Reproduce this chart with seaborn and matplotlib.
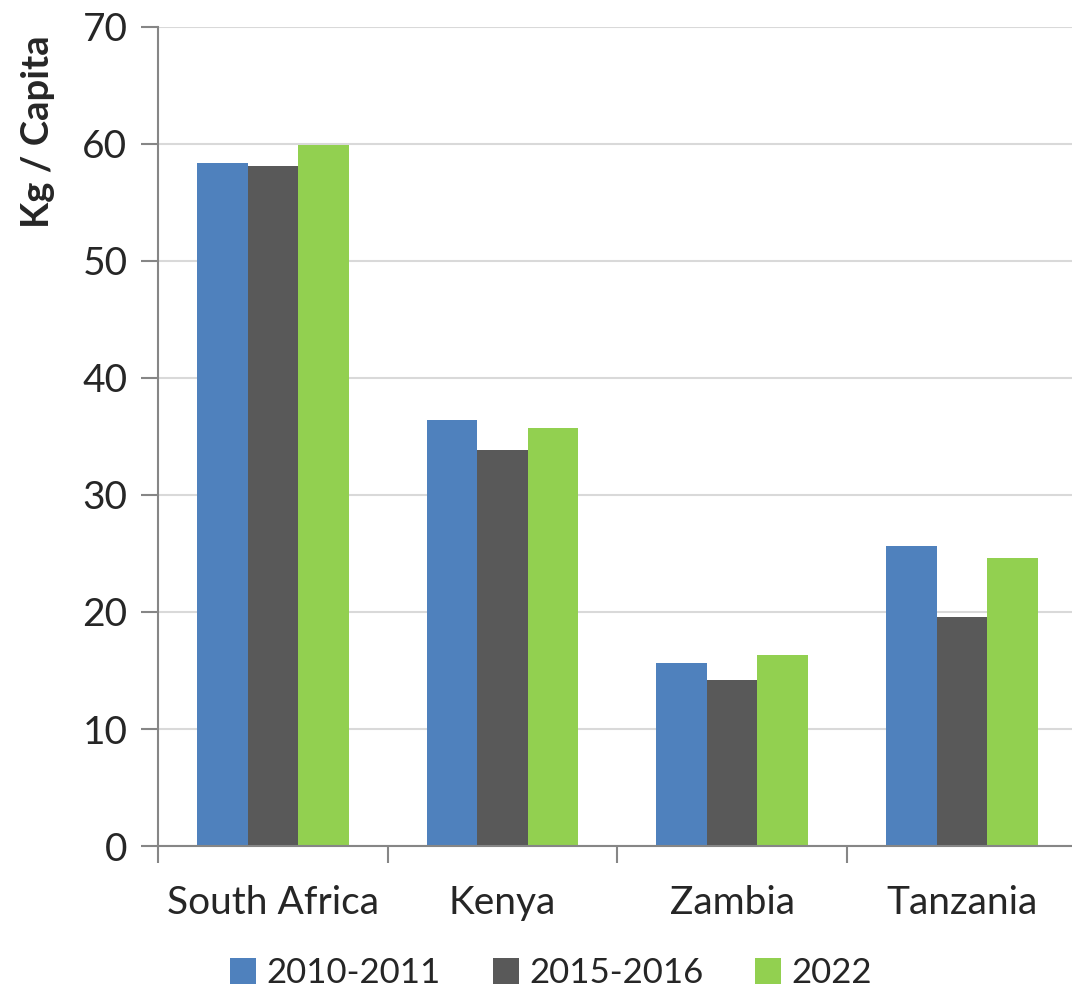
import numpy as np
import pandas as pd
import matplotlib
matplotlib.use('Agg')
import matplotlib.pyplot as plt
import seaborn as sns

# data
countries = ['South Africa', 'Kenya', 'Zambia', 'Tanzania']
periods = ['2010-2011', '2015-2016', '2022']
v_2010 = [58.4, 36.4, 15.6, 25.6]
v_2015 = [58.1, 33.8, 14.2, 19.6]
v_2022 = [59.9, 35.7, 16.3, 24.6]
colors = ['#4F81BD', '#595959', '#92D050']

df = pd.DataFrame({
    'Country': countries * 3,
    'Period': [periods[0]] * 4 + [periods[1]] * 4 + [periods[2]] * 4,
    'Value': v_2010 + v_2015 + v_2022,
})

sns.set_style('white')
plt.rcParams['font.family'] = ['Lato', 'DejaVu Sans']

fig = plt.figure(figsize=(10.72, 9.93), dpi=100)
ax = fig.add_axes([0.1474, 0.148, 0.857, 0.825])

sns.barplot(data=df, x='Country', y='Value', hue='Period', hue_order=periods,
            palette=colors, width=0.66, gap=0, saturation=1, linewidth=0,
            ax=ax, legend=True)

ax.set_ylim(0, 70)
ax.set_yticks(np.arange(0, 71, 10))
ax.set_xlim(-0.5, 3.5)
ax.yaxis.grid(True, color='#D9D9D9', linewidth=1.5)
ax.set_axisbelow(True)

for s in ['top', 'right']:
    ax.spines[s].set_visible(False)
for s in ['left', 'bottom']:
    ax.spines[s].set_color('#868686')
    ax.spines[s].set_linewidth(1.5)

ax.set_xticks(np.arange(-0.5, 3.6, 1), minor=True)
ax.tick_params(axis='x', which='major', length=0, pad=28, labelsize=28)
ax.tick_params(axis='x', which='minor', length=12, width=1.5, color='#868686', direction='out')
ax.tick_params(axis='y', length=12, width=1.5, color='#868686', direction='out', labelsize=28, pad=10)
ax.tick_params(bottom=True, left=True, which='both')

ax.set_xlabel('')
ax.set_ylabel('Kg / Capita', fontsize=27.5, fontweight='bold', loc='top')
ax.yaxis.set_label_coords(-0.112, 0.99)

handles, labels = ax.get_legend_handles_labels()
ax.legend_.remove()
fig.legend(handles, labels, loc='center', bbox_to_anchor=(0.514, 0.02), ncol=3,
           frameon=False, fontsize=25, handlelength=0.75, handleheight=0.75,
           handletextpad=0.3, columnspacing=1.5)

fig.savefig('out.png', dpi=100)
